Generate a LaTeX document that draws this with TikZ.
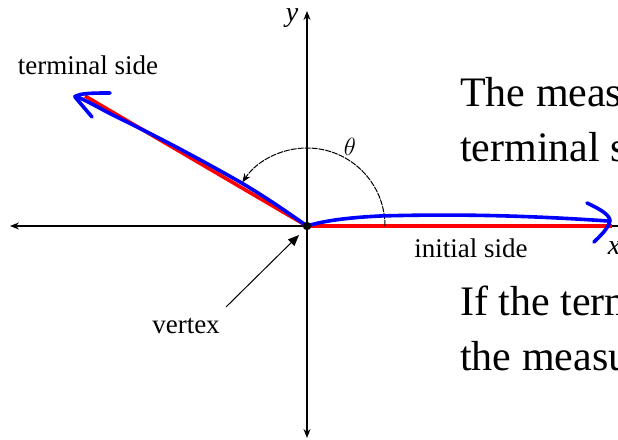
\documentclass[tikz,border=0pt]{standalone}
\usepackage{fontspec}
\setmainfont{Liberation Serif}
\usetikzlibrary{arrows.meta}
\tikzset{
  axis/.style={line width=1.2pt,-{Stealth[length=9pt,width=7pt,inset=3pt]}},
  redside/.style={draw=red,line width=3.6pt},
  blueside/.style={draw=blue,line width=3.6pt,line cap=round,line join=round},
  lbl/.style={font=\fontsize{27}{30}\selectfont,inner sep=0pt},
  big/.style={font=\fontsize{42}{46}\selectfont,inner sep=0pt,anchor=base west},
}
\begin{document}
\begin{tikzpicture}[x=1pt,y=1pt]
\clip (0,0) rectangle (618,439);
\fill[white] (0,0) rectangle (618,439);
% coordinates
\coordinate (O) at (307,213);
\coordinate (ytop) at (307,428);
\coordinate (ybot) at (307,1);
\coordinate (xleft) at (10,213);
\coordinate (xright) at (640,213);
\coordinate (T) at (85,343);
\coordinate (I) at (612,213);
% axes
\draw[axis] (O) -- (ytop);
\draw[axis] (O) -- (ybot);
\draw[axis] (O) -- (xleft);
\draw[line width=1.2pt] (O) -- (xright);
% red sides
\draw[redside] (O) -- (T);
\draw[redside] (O) -- (I);
% angle arc
\draw[line width=1pt,dash pattern=on 6pt off 1pt,-{Stealth[length=9pt,width=7pt]}] (O) ++(0:78) arc[start angle=0,end angle=146,radius=78];
\node[inner sep=0pt,font=\fontsize{26}{28}\selectfont] (th) at (350,292) {$\theta$};
% blue hand-drawn terminal side
\draw[blueside] (O) .. controls (280,232) and (262,244) .. (240,257)
  .. controls (210,274) and (170,296) .. (125,318)
  .. controls (100,330) and (88,338) .. (75,343);
\draw[blueside] (92,322) -- (75,342) .. controls (78,346) and (95,346) .. (110,346);
% blue hand-drawn initial side
\draw[blueside] (O) .. controls (320,217) and (340,221) .. (380,223)
  .. controls (450,225) and (520,224) .. (608,218);
\draw[blueside] (587,236) .. controls (600,230) and (610,224) .. (610,218)
  .. controls (608,210) and (600,203) .. (594,197);
% vertex dot
\fill (O) circle (4.2pt);
% vertex pointer
\node[lbl] (vx) at (186,113) {vertex};
\coordinate (vs) at (226,132);
\coordinate (ve) at (299,204);
\draw[line width=1pt,-{Triangle[length=11pt,width=9pt]}] (vs) -- (ve);
% labels
\node[lbl] (ts) at (88,374) {terminal side};
\node[lbl] (is) at (471,191) {initial side};
\node[lbl,font=\fontsize{28}{30}\selectfont\itshape] (yl) at (292,421) {y};
\node[lbl,font=\fontsize{28}{30}\selectfont\itshape] (xl) at (614,191) {x};
% right-hand text
\node[big] (t1) at (460,332) {The measure};
\node[big] (t2) at (460,277) {terminal side};
\node[big] (t3) at (460,123) {If the terminal};
\node[big] (t4) at (460,69) {the measure};
\end{tikzpicture}
\end{document}
